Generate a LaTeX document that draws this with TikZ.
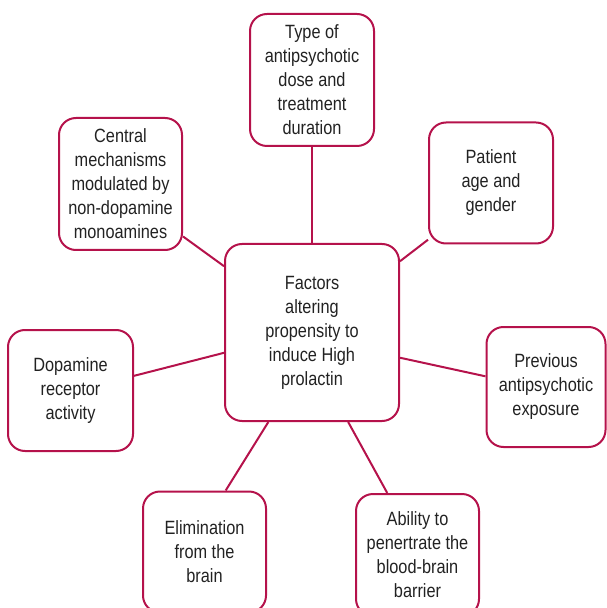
\documentclass[tikz,border=0pt]{standalone}
\usepackage{fontspec}
\setmainfont{Liberation Sans}[FakeStretch=0.85]
\usetikzlibrary{positioning}
\definecolor{crim}{RGB}{181,18,75}
\definecolor{ink}{RGB}{34,34,34}
\tikzset{fac/.style={draw=crim,line width=1pt,rounded corners=8.5pt,align=center,inner sep=0pt,
   text=ink,minimum width=62pt,minimum height=60.5pt},
 hub/.style={fac,minimum width=87pt,minimum height=88.5pt},
 link/.style={draw=crim,line width=1pt},
 every node/.style={font=\fontsize{9.6}{12}\selectfont}}
\begin{document}
\begin{tikzpicture}[x=0.5pt,y=-0.5pt]
\useasboundingbox (0,0) rectangle (606,608);
\node[hub] (c) at (312,332.5) {Factors\\altering\\propensity to\\induce High\\prolactin};
\node[fac,minimum height=66pt] (t) at (312,80) {Type of\\antipsychotic\\dose and\\treatment\\duration};
\node[fac,minimum width=61.5pt,minimum height=66pt] (tl) at (120.5,184) {Central\\mechanisms\\modulated by\\non-dopamine\\monoamines};
\node[fac] (tr) at (491,183) {Patient\\age and\\gender};
\node[fac,minimum width=62.5pt] (l) at (70.5,390.5) {Dopamine\\receptor\\activity};
\node[fac,minimum width=59.5pt,minimum height=60pt] (r) at (546,387) {Previous\\antipsychotic\\exposure};
\node[fac,minimum width=61.5pt] (bl) at (204.5,552) {Elimination\\from the\\brain};
\node[fac,minimum width=61.5pt,minimum height=61pt] (br) at (417.5,555) {Ability to\\penertrate the\\blood-brain\\barrier};
% spokes
\draw[link] (c.north) -- (t.south);
\draw[link] (c.143) -- (tl.320.3);
\draw[link] (c.39.4) -- (tr.222.1);
\draw[link] (c.193.3) -- (l.13.9);
\draw[link] (c.344.9) -- (r.170.8);
\draw[link] (c.244.6) -- (bl.71.1);
\draw[link] (c.292.7) -- (br.116.6);
\end{tikzpicture}
\end{document}
